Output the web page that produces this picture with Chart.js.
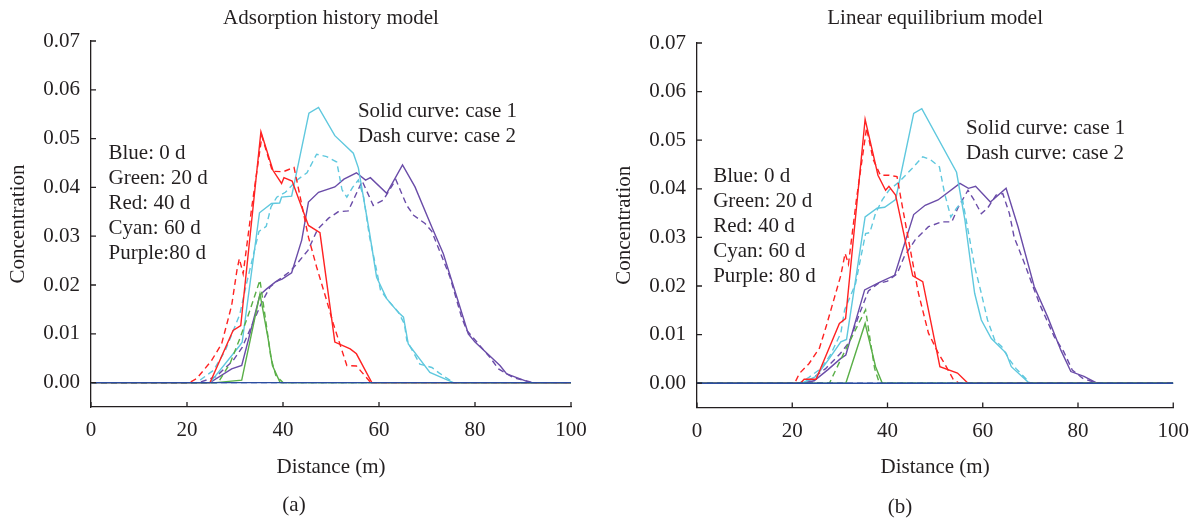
<!DOCTYPE html>
<html>
<head>
<meta charset="utf-8">
<script src="https://cdn.jsdelivr.net/npm/chart.js@4.4.1/dist/chart.umd.min.js"></script>
<style>
  html, body { margin: 0; padding: 0; background: #ffffff; }
  #wrap { position: relative; width: 1200px; height: 520px; overflow: hidden; }
  canvas { position: absolute; top: 0; }
</style>
</head>
<body>
<div id="wrap">
  <canvas id="panelA" width="600" height="520" style="left:0"></canvas>
  <canvas id="panelB" width="600" height="520" style="left:600px"></canvas>
</div>
<script>
// ---- axis ticks ----
const xTicks = [0, 20, 40, 60, 80, 100];
const yTicks = [0, 0.01, 0.02, 0.03, 0.04, 0.05, 0.06, 0.07];

// ---- (a) adsorption history model: [distance m, concentration] ----
// case 1 = solid, case 2 = dashed
const aBlue1 = [[0, 0], [100, 0]];
const aBlue2 = [[0, 0], [100, 0]];
const aGreen1 = [[0, 0], [26, 0], [31.4, 0.0005], [35.2, 0.0182], [36.9, 0.009], [37.8, 0.0035], [39.4, 0], [100, 0]];
const aGreen2 = [[0, 0], [26.5, 0], [29, 0.004], [31, 0.009], [33, 0.0145], [35.2, 0.021], [36.5, 0.012], [37.5, 0.005], [38.5, 0.0015], [40, 0], [100, 0]];
const aRed1 = [[0, 0], [24.8, 0], [29.6, 0.0107], [31.2, 0.0117], [35.4, 0.0514], [37.9, 0.0435], [39.7, 0.0408], [40.2, 0.042], [41.9, 0.0413], [45.3, 0.0322], [47.7, 0.0307], [50.8, 0.0083], [54.0, 0.0069], [55.3, 0.0059], [58.5, 0], [100, 0]];
const aRed2 = [[0, 0], [20.5, 0], [22, 0.0008], [25.1, 0.0045], [27.2, 0.0079], [28.3, 0.012], [29.3, 0.0158], [30.4, 0.023], [30.9, 0.0254], [31.7, 0.0223], [33.5, 0.036], [35.6, 0.0505], [37.8, 0.0433], [40.0, 0.0432], [42.3, 0.0441], [43.8, 0.037], [45.3, 0.0298], [47.0, 0.0237], [49.1, 0.0168], [50.5, 0.012], [53.3, 0.0035], [55.3, 0.0034], [58.3, 0], [100, 0]];
const aCyan1 = [[0, 0], [24.8, 0], [31.0, 0.0076], [31.5, 0.0083], [35.1, 0.0348], [37.6, 0.0367], [39.3, 0.0368], [39.7, 0.038], [41.8, 0.0382], [45.4, 0.0552], [47.4, 0.0564], [50.8, 0.0506], [54.65, 0.047], [55.7, 0.044], [58.0, 0.0309], [59.5, 0.0216], [61.6, 0.0172], [64.0, 0.0144], [65.1, 0.0134], [66.1, 0.0079], [70.6, 0.0021], [75.5, 0], [100, 0]];
const aCyan2 = [[0, 0], [22, 0], [25.5, 0.0025], [28, 0.0066], [31, 0.014], [32.4, 0.0203], [33.3, 0.024], [35, 0.031], [36.5, 0.032], [37.5, 0.036], [38.7, 0.038], [40.5, 0.039], [42.9, 0.0415], [45, 0.043], [47, 0.0468], [49.1, 0.0463], [51.2, 0.0452], [52.3, 0.0395], [53.3, 0.038], [54.5, 0.04], [55.7, 0.0415], [56.8, 0.038], [58, 0.03], [59.5, 0.023], [60.3, 0.019], [61.9, 0.0168], [64, 0.0145], [65.3, 0.012], [65.8, 0.0086], [67, 0.0065], [68.5, 0.0038], [71, 0.0031], [72.5, 0.002], [75.5, 0], [100, 0]];
const aPurple1 = [[0, 0], [24.8, 0], [29.3, 0.0028], [31.4, 0.0035], [32.4, 0.0073], [35.2, 0.018], [36.6, 0.0192], [38.5, 0.0207], [39.8, 0.0212], [41.8, 0.0225], [43.9, 0.0292], [45.3, 0.037], [47.4, 0.039], [50.8, 0.0401], [52.7, 0.0417], [55.3, 0.043], [57.2, 0.0415], [58.2, 0.042], [61.6, 0.0388], [64.9, 0.0446], [67.5, 0.0401], [71.0, 0.0319], [73.4, 0.0264], [78.6, 0.01], [80.0, 0.0083], [85.2, 0.0035], [86.6, 0.0018], [91.5, 0], [100, 0]];
const aPurple2 = [[0, 0], [22.5, 0], [26, 0.0012], [29.6, 0.0045], [31.5, 0.0072], [33.5, 0.0117], [35.6, 0.0165], [37.3, 0.0196], [39, 0.021], [41.5, 0.0228], [43.2, 0.0247], [45.2, 0.0271], [47.2, 0.0314], [49.5, 0.0337], [51.5, 0.035], [53.6, 0.0352], [56.5, 0.0413], [58.8, 0.0363], [60.9, 0.0374], [63.5, 0.0416], [65.8, 0.0363], [67.2, 0.0343], [69.6, 0.0326], [71, 0.031], [74.8, 0.0216], [77.2, 0.0134], [78.3, 0.0107], [83.1, 0.0052], [84.9, 0.0028], [88, 0.001], [92.2, 0], [100, 0]];

// ---- (b) linear equilibrium model ----
const bBlue1 = [[0, 0], [100, 0]];
const bBlue2 = [[0, 0], [100, 0]];
const bGreen1 = [[0, 0], [31.25, 0], [35.3, 0.0123], [37.5, 0.0034], [38.9, 0], [100, 0]];
const bGreen2 = [[0, 0], [27.8, 0], [30, 0.0045], [32, 0.0085], [33.8, 0.012], [35.4, 0.0151], [36.5, 0.008], [37.3, 0.003], [38.3, 0], [100, 0]];
const bRed1 = [[0, 0], [21.7, 0], [22.5, 0.0008], [25, 0.0008], [29.9, 0.0123], [31.2, 0.0133], [35.3, 0.0543], [38.0, 0.0428], [39.6, 0.0397], [40.3, 0.0405], [41.7, 0.0387], [45.3, 0.0221], [47.4, 0.0209], [51.0, 0.0034], [54.7, 0.0021], [56.9, 0], [100, 0]];
const bRed2 = [[0, 0], [20.5, 0], [21.5, 0.002], [23.5, 0.004], [25.7, 0.0072], [27.1, 0.0116], [28.5, 0.0164], [30.2, 0.0222], [31.1, 0.0267], [31.8, 0.0245], [33.5, 0.038], [35.6, 0.0525], [37, 0.046], [38.5, 0.0428], [40.3, 0.0428], [42, 0.0425], [43, 0.037], [44.5, 0.029], [46.5, 0.0185], [48.6, 0.0103], [50.5, 0.0065], [52.1, 0.0038], [53.8, 0.0008], [55, 0], [100, 0]];
const bCyan1 = [[0, 0], [22, 0], [25, 0.0014], [27.8, 0.0051], [30.2, 0.0085], [31.4, 0.009], [35.3, 0.0342], [37.8, 0.036], [39.4, 0.0362], [41.7, 0.0378], [45.5, 0.0555], [47.2, 0.0565], [54.5, 0.0434], [56.25, 0.0336], [58.3, 0.0185], [59.7, 0.013], [61.8, 0.0092], [64.9, 0.0062], [66, 0.0034], [69.8, 0], [100, 0]];
const bCyan2 = [[0, 0], [21.5, 0], [23.5, 0.0012], [26, 0.003], [28, 0.0058], [30.2, 0.0103], [31, 0.0151], [33.3, 0.0205], [35.4, 0.0308], [36.3, 0.031], [37.5, 0.035], [38.9, 0.0377], [40.3, 0.0397], [42.4, 0.0414], [45, 0.044], [47.4, 0.0466], [49, 0.046], [50.9, 0.0445], [52, 0.039], [53.3, 0.0342], [54.5, 0.036], [55.8, 0.0375], [57, 0.031], [58.3, 0.024], [59.7, 0.0185], [61, 0.013], [62.5, 0.0089], [64, 0.0075], [65.5, 0.005], [67, 0.003], [70, 0], [100, 0]];
const bPurple1 = [[0, 0], [22, 0], [24.6, 0.0005], [27.5, 0.0028], [30.2, 0.0051], [31.25, 0.0058], [35.2, 0.0192], [38.2, 0.0207], [41.5, 0.0222], [45.5, 0.0347], [47.9, 0.0366], [50.6, 0.0377], [55.2, 0.0411], [57.0, 0.0401], [58.5, 0.0405], [61.6, 0.0373], [64.9, 0.0401], [67.4, 0.0322], [70.8, 0.0199], [73.6, 0.0137], [76.4, 0.0068], [78.5, 0.0024], [81.25, 0.0014], [84, 0], [100, 0]];
const bPurple2 = [[0, 0], [21.5, 0], [24, 0.0008], [27, 0.003], [30, 0.006], [32, 0.0085], [34, 0.014], [36, 0.019], [38, 0.0205], [40, 0.021], [42, 0.0225], [43.5, 0.026], [45.8, 0.0295], [48.6, 0.0322], [51.4, 0.0332], [53.5, 0.0332], [54.9, 0.0363], [56.9, 0.0397], [58, 0.038], [59.7, 0.0349], [61, 0.036], [62.8, 0.0387], [64.2, 0.039], [65.6, 0.0349], [66.6, 0.03], [68.75, 0.0247], [70.5, 0.02], [72.2, 0.0157], [75, 0.0096], [77, 0.0065], [78.8, 0.0027], [81, 0.001], [84, 0], [100, 0]];

// ---- styling ----
const COLORS = { blue: '#2b4da0', green: '#5aaf48', red: '#ff2222', cyan: '#5fc8de', purple: '#6a4ca8' };
const AXIS_COLOR = '#231f20';
const TEXT_COLOR = '#231f20';
const FONT_FAMILY = '"Liberation Serif", "Times New Roman", serif';
const FONT_SIZE = 21;
const TICK_LEN = 5;
const NOTE_LINE = 25;

function series(points, color, dashed) {
  return {
    data: points.map(([x, y]) => ({ x, y })),
    borderColor: color,
    borderWidth: 1.4,
    borderDash: dashed ? [6, 4] : [],
    pointRadius: 0,
    fill: false,
    tension: 0
  };
}

// inward tick marks, titles and in-plot notes
const panelDecor = {
  id: 'panelDecor',
  afterDraw(chart, args, opts) {
    const { ctx, chartArea: ca, scales: { x, y } } = chart;
    ctx.save();
    ctx.strokeStyle = AXIS_COLOR;
    ctx.lineWidth = 1.3;
    ctx.beginPath();
    x.ticks.forEach(t => {
      const px = x.getPixelForValue(t.value);
      ctx.moveTo(px, ca.bottom);
      ctx.lineTo(px, ca.bottom - TICK_LEN);
    });
    y.ticks.forEach(t => {
      const py = y.getPixelForValue(t.value);
      ctx.moveTo(ca.left, py);
      ctx.lineTo(ca.left + TICK_LEN, py);
    });
    ctx.stroke();

    ctx.fillStyle = TEXT_COLOR;
    ctx.font = FONT_SIZE + 'px ' + FONT_FAMILY;
    ctx.textAlign = 'center';
    ctx.textBaseline = 'middle';
    const cx = (ca.left + ca.right) / 2;
    ctx.fillText(opts.title, cx, opts.titleY);
    ctx.fillText(opts.xTitle, cx, opts.xTitleY);
    ctx.fillText(opts.caption, opts.captionX, opts.captionY);

    ctx.save();
    ctx.translate(opts.yTitleX, (ca.top + ca.bottom) / 2);
    ctx.rotate(-Math.PI / 2);
    ctx.fillText(opts.yTitle, 0, 0);
    ctx.restore();

    ctx.textAlign = 'left';
    opts.notes.forEach(n => {
      const px = x.getPixelForValue(n.x);
      const py = y.getPixelForValue(n.y);
      n.lines.forEach((s, i) => ctx.fillText(s, px, py + i * NOTE_LINE));
    });
    ctx.restore();
  }
};

function makePanel(canvasId, sets, layout, decor) {
  const datasets = [
    series(sets.blue1, COLORS.blue, false),
    series(sets.blue2, COLORS.blue, true),
    series(sets.green1, COLORS.green, false),
    series(sets.green2, COLORS.green, true),
    series(sets.red1, COLORS.red, false),
    series(sets.red2, COLORS.red, true),
    series(sets.cyan1, COLORS.cyan, false),
    series(sets.cyan2, COLORS.cyan, true),
    series(sets.purple1, COLORS.purple, false),
    series(sets.purple2, COLORS.purple, true)
  ];
  const tickFont = { family: FONT_FAMILY, size: FONT_SIZE };
  return new Chart(document.getElementById(canvasId), {
    type: 'line',
    data: { datasets },
    options: {
      responsive: false,
      animation: false,
      devicePixelRatio: 1,
      layout: { padding: { top: layout.top, right: layout.right, bottom: 0, left: 0 } },
      plugins: {
        legend: { display: false },
        tooltip: { enabled: false },
        title: { display: false },
        panelDecor: decor
      },
      scales: {
        x: {
          type: 'linear',
          min: 0,
          max: 100,
          afterBuildTicks: s => { s.ticks = xTicks.map(v => ({ value: v })); },
          afterFit: s => { s.height = layout.xHeight; },
          grid: { display: false, drawTicks: false },
          border: { display: true, color: AXIS_COLOR, width: 1.3 },
          ticks: { padding: 11, font: tickFont, color: TEXT_COLOR, maxRotation: 0, autoSkip: false }
        },
        y: {
          type: 'linear',
          min: -0.005,
          max: 0.07,
          afterBuildTicks: s => { s.ticks = yTicks.map(v => ({ value: v })); },
          afterFit: s => { s.width = layout.yWidth; },
          grid: { display: false, drawTicks: false },
          border: { display: true, color: AXIS_COLOR, width: 1.3 },
          ticks: { padding: 11, font: tickFont, color: TEXT_COLOR, autoSkip: false, callback: v => v.toFixed(2) }
        }
      }
    },
    plugins: [panelDecor]
  });
}

makePanel('panelA',
  { blue1: aBlue1, blue2: aBlue2, green1: aGreen1, green2: aGreen2, red1: aRed1, red2: aRed2,
    cyan1: aCyan1, cyan2: aCyan2, purple1: aPurple1, purple2: aPurple2 },
  { top: 41, right: 29, xHeight: 113, yWidth: 91 },
  {
    title: 'Adsorption history model', titleY: 18,
    xTitle: 'Distance (m)', xTitleY: 467,
    yTitle: 'Concentration', yTitleX: 18,
    caption: '(a)', captionX: 294, captionY: 505,
    notes: [
      { x: 3.65, y: 0.0470, lines: ['Blue: 0 d', 'Green: 20 d', 'Red: 40 d', 'Cyan: 60 d', 'Purple:80 d'] },
      { x: 55.6, y: 0.0556, lines: ['Solid curve: case 1', 'Dash curve: case 2'] }
    ]
  });

makePanel('panelB',
  { blue1: bBlue1, blue2: bBlue2, green1: bGreen1, green2: bGreen2, red1: bRed1, red2: bRed2,
    cyan1: bCyan1, cyan2: bCyan2, purple1: bPurple1, purple2: bPurple2 },
  { top: 43, right: 23, xHeight: 112.5, yWidth: 97 },
  {
    title: 'Linear equilibrium model', titleY: 18,
    xTitle: 'Distance (m)', xTitleY: 467,
    yTitle: 'Concentration', yTitleX: 24,
    caption: '(b)', captionX: 300, captionY: 507,
    notes: [
      { x: 3.4, y: 0.0425, lines: ['Blue: 0 d', 'Green: 20 d', 'Red: 40 d', 'Cyan: 60 d', 'Purple: 80 d'] },
      { x: 56.5, y: 0.0525, lines: ['Solid curve: case 1', 'Dash curve: case 2'] }
    ]
  });
</script>
</body>
</html>
